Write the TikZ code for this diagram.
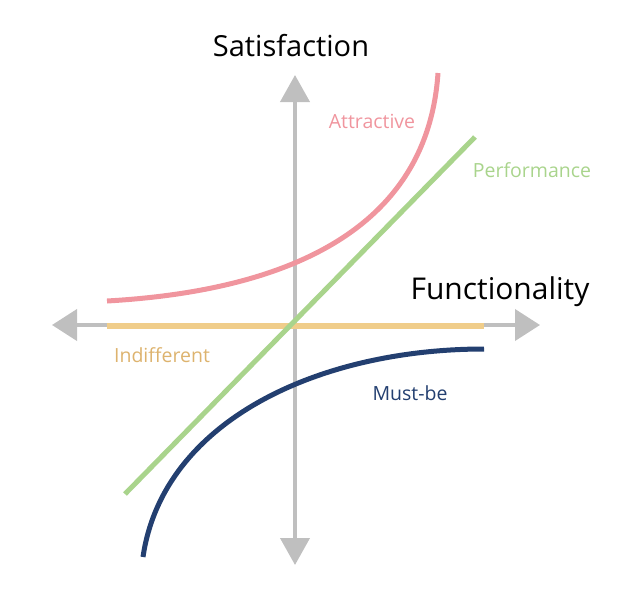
\documentclass[tikz,border=0pt]{standalone}
\usepackage{fontspec}
\setmainfont{Open Sans}
\usetikzlibrary{arrows.meta}
\definecolor{axe}{HTML}{BFBFBF}
\definecolor{attr}{HTML}{F0959E}
\definecolor{perf}{HTML}{A9D48C}
\definecolor{indif}{HTML}{F0CD8A}
\definecolor{indiftxt}{HTML}{DDB36E}
\definecolor{must}{HTML}{233F70}
\begin{document}
\begin{tikzpicture}[x=1pt,y=-1pt]
 \useasboundingbox (0,0) rectangle (627,590);
	% Axes
 \coordinate (g) at (52,325);
 \coordinate (d) at (540,325);
 \coordinate (h) at (295,75);
 \coordinate (b) at (295,565);
 \draw[axe, line width=4pt, {Triangle[length=25pt,width=31pt]}-{Triangle[length=25pt,width=31pt]}] (g) -- (d);
 \draw[axe, line width=4pt, {Triangle[length=27pt,width=29pt]}-{Triangle[length=27pt,width=29pt]}] (h) -- (b);
 \node[font=\fontsize{29}{34}\selectfont] (sat) at (291,46) {Satisfaction};
 \node[font=\fontsize{30}{35}\selectfont] (fct) at (500,292) {Functionality};

	% Courbes
 \coordinate (i0) at (107,326);
 \coordinate (i1) at (484,326);
 \draw[indif, line width=6pt] (i0) -- (i1);
 \coordinate (p0) at (125,494);
 \coordinate (p1) at (475,137);
 \draw[perf, line width=5pt] (p0) -- (p1);
 \coordinate (a0) at (107,301);
 \coordinate (a1) at (438,73);
 \draw[attr, line width=5pt] (a0) .. controls (300,290) and (428,222) .. (a1);
 \coordinate (m0) at (143,557);
 \coordinate (m1) at (484,349);
 \draw[must, line width=5pt] (m0) .. controls (163,420) and (320,349) .. (m1);

	% Etiquettes
 \node[attr, font=\fontsize{19.5}{23}\selectfont] (la) at (372,121) {Attractive};
 \node[perf, font=\fontsize{19.5}{23}\selectfont] (lp) at (532,170) {Performance};
 \node[indiftxt, font=\fontsize{19.5}{23}\selectfont] (li) at (162,355) {Indifferent};
 \node[must, font=\fontsize{19.5}{23}\selectfont] (lm) at (410,393) {Must-be};
\end{tikzpicture}
\end{document}
